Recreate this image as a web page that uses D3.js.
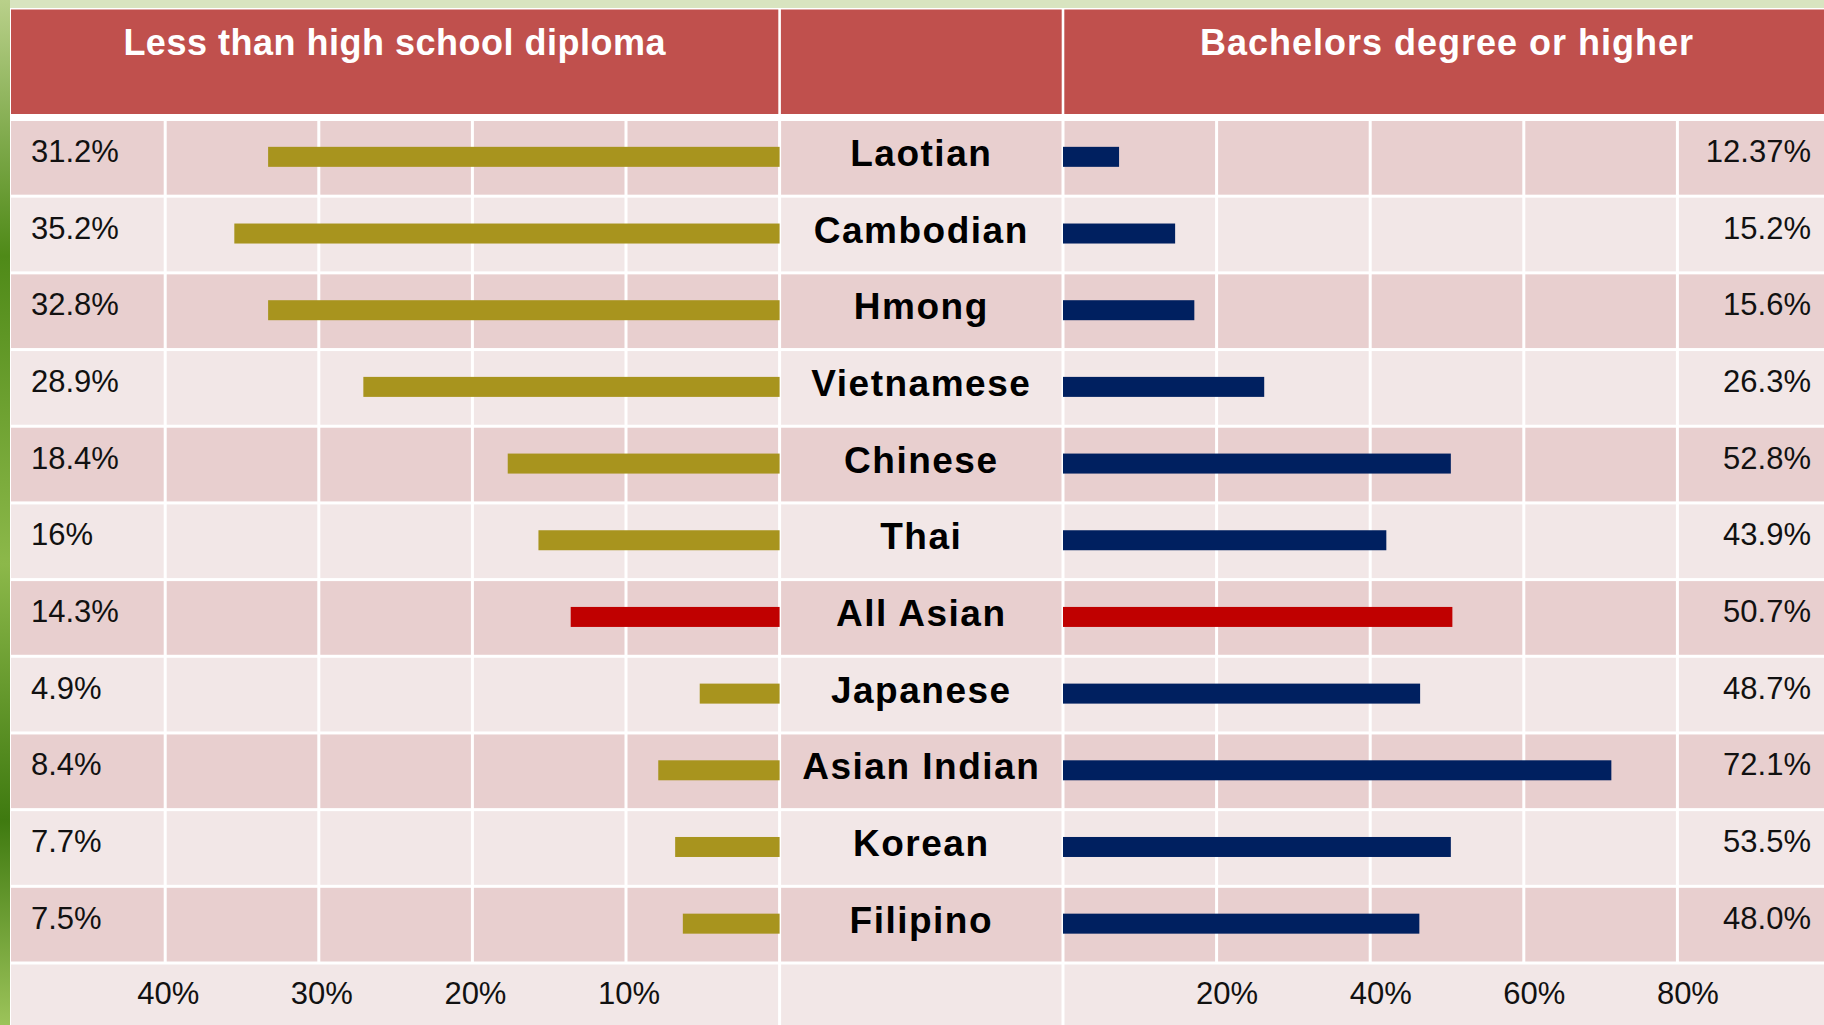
<!DOCTYPE html>
<html>
<head>
<meta charset="utf-8">
<script src="https://cdn.jsdelivr.net/npm/d3@7"></script>
<style>
  body { margin: 0; overflow: hidden; background: #f2e7e7; }
  text { font-family: "Liberation Sans", Arial, sans-serif; }
</style>
</head>
<body>
<div id="chart"></div>
<script>
// groups, top to bottom
const groups = ["Laotian", "Cambodian", "Hmong", "Vietnamese", "Chinese", "Thai",
  "All Asian", "Japanese", "Asian Indian", "Korean", "Filipino"];

// bar lengths in % as they are drawn
// (the drawn bars in the original don't always agree with the printed labels)
const lessHS    = [33.3, 35.5, 33.3, 27.1, 17.7, 15.7, 13.6, 5.2, 7.9, 6.8, 6.3];
const bachelors = [7.3, 14.6, 17.1, 26.2, 50.5, 42.1, 50.7, 46.5, 71.4, 50.5, 46.4];

// printed labels
const lessHSLabels    = ["31.2%", "35.2%", "32.8%", "28.9%", "18.4%", "16%", "14.3%", "4.9%", "8.4%", "7.7%", "7.5%"];
const bachelorsLabels = ["12.37%", "15.2%", "15.6%", "26.3%", "52.8%", "43.9%", "50.7%", "48.7%", "72.1%", "53.5%", "48.0%"];

const leftTicks  = [10, 20, 30, 40];
const rightTicks = [20, 40, 60, 80];
const highlight = "All Asian";

// page + table layout
const width = 1824, height = 1025;
const tableLeft = 11, headerTop = 9.5, headerBottom = 114;
const rowsTop = 119.5, rowsBottom = 963;
const leftZero = 779.6, rightZero = 1063;

const svg = d3.select("#chart")
  .append("svg")
    .attr("width", width)
    .attr("height", height);

// background (bamboo strip on the left, pale green on top)
const defs = svg.append("defs");
const grad = defs.append("linearGradient").attr("id", "bamboo")
  .attr("x1", 0).attr("x2", 0).attr("y1", 0).attr("y2", 1);
grad.append("stop").attr("offset", "0%").attr("stop-color", "#b9d08a");
grad.append("stop").attr("offset", "25%").attr("stop-color", "#4f8a18");
grad.append("stop").attr("offset", "55%").attr("stop-color", "#8cb84a");
grad.append("stop").attr("offset", "80%").attr("stop-color", "#3f7a10");
grad.append("stop").attr("offset", "100%").attr("stop-color", "#9cc35a");

svg.append("rect")
  .attr("width", width).attr("height", height)
  .attr("fill", "#d8e4c0");
svg.append("rect")
  .attr("width", tableLeft - 1).attr("height", height)
  .attr("fill", "url(#bamboo)");

// white table base shows through as the cell borders
svg.append("rect")
  .attr("x", tableLeft - 1).attr("y", headerTop - 1.5)
  .attr("width", width - tableLeft + 1).attr("height", height - headerTop + 1.5)
  .attr("fill", "#ffffff");

// scales
const y = d3.scaleBand()
  .domain(groups)
  .range([rowsTop, rowsBottom]);

const xL = d3.scaleLinear()
  .domain([0, 50])
  .range([leftZero, leftZero - 768]);

const xR = d3.scaleLinear()
  .domain([0, 100])
  .range([rightZero, rightZero + 768]);

// header cells
const headCells = [
  {x0: tableLeft, x1: leftZero - 1.3, label: "Less than high school diploma"},
  {x0: leftZero + 1.3, x1: rightZero - 1.3, label: ""},
  {x0: rightZero + 1.3, x1: width, label: "Bachelors degree or higher"}
];
svg.selectAll(".head")
  .data(headCells)
  .enter()
  .append("rect")
    .attr("class", "head")
    .attr("x", d => d.x0)
    .attr("y", headerTop)
    .attr("width", d => d.x1 - d.x0)
    .attr("height", headerBottom - headerTop)
    .attr("fill", "#c0504d");

svg.selectAll(".headText")
  .data(headCells.filter(d => d.label))
  .enter()
  .append("text")
    .attr("class", "headText")
    .attr("x", (d, i) => i == 0 ? (d.x0 + d.x1) / 2 : 1447)
    .attr("y", 55)
    .attr("text-anchor", "middle")
    .attr("font-size", 36)
    .attr("font-weight", "bold")
    .attr("letter-spacing", (d, i) => i == 0 ? 0.5 : 1)
    .attr("fill", "#ffffff")
    .text(d => d.label);

// row backgrounds, alternating
svg.selectAll(".row")
  .data(groups)
  .enter()
  .append("rect")
    .attr("class", "row")
    .attr("x", tableLeft)
    .attr("y", d => y(d) + 1.5)
    .attr("width", width - tableLeft)
    .attr("height", y.bandwidth() - 3)
    .attr("fill", (d, i) => i % 2 == 0 ? "#e8cfcf" : "#f2e7e7");

// axis row
svg.append("rect")
  .attr("x", tableLeft)
  .attr("y", rowsBottom + 1.5)
  .attr("width", width - tableLeft)
  .attr("height", height - rowsBottom)
  .attr("fill", "#f2e7e7");

// vertical grid lines inside the rows
const gridX = [0].concat(leftTicks).map(xL).concat([0].concat(rightTicks).map(xR));
svg.selectAll(".grid")
  .data(gridX)
  .enter()
  .append("line")
    .attr("class", "grid")
    .attr("x1", d => d).attr("x2", d => d)
    .attr("y1", rowsTop).attr("y2", rowsBottom)
    .attr("stroke", "#ffffff")
    .attr("stroke-width", 3);

// column dividers down through the axis row
svg.selectAll(".divider")
  .data([leftZero, rightZero])
  .enter()
  .append("line")
    .attr("class", "divider")
    .attr("x1", d => d).attr("x2", d => d)
    .attr("y1", rowsBottom).attr("y2", height)
    .attr("stroke", "#ffffff")
    .attr("stroke-width", 3);

const barH = 20;

// left bars (less than high school)
svg.selectAll(".barL")
  .data(groups)
  .enter()
  .append("rect")
    .attr("class", "barL")
    .attr("x", (d, i) => xL(lessHS[i]))
    .attr("y", d => y(d) + y.bandwidth() / 2 - barH / 2 - 1)
    .attr("width", (d, i) => xL(0) - xL(lessHS[i]))
    .attr("height", barH)
    .attr("fill", d => d == highlight ? "#c00000" : "#a8941e");

// right bars (bachelors or higher)
svg.selectAll(".barR")
  .data(groups)
  .enter()
  .append("rect")
    .attr("class", "barR")
    .attr("x", xR(0))
    .attr("y", d => y(d) + y.bandwidth() / 2 - barH / 2 - 1)
    .attr("width", (d, i) => xR(bachelors[i]) - xR(0))
    .attr("height", barH)
    .attr("fill", d => d == highlight ? "#c00000" : "#002060");

// group names in the middle column
svg.selectAll(".name")
  .data(groups)
  .enter()
  .append("text")
    .attr("class", "name")
    .attr("x", (leftZero + rightZero) / 2)
    .attr("y", d => y(d) + y.bandwidth() / 2 + 8)
    .attr("text-anchor", "middle")
    .attr("font-size", 37)
    .attr("font-weight", "bold")
    .attr("letter-spacing", 1.5)
    .attr("fill", "#000000")
    .text(d => d);

// value labels
svg.selectAll(".valL")
  .data(groups)
  .enter()
  .append("text")
    .attr("class", "valL")
    .attr("x", 31)
    .attr("y", d => y(d) + y.bandwidth() / 2 + 4)
    .attr("font-size", 31)
    .attr("fill", "#111111")
    .text((d, i) => lessHSLabels[i]);

svg.selectAll(".valR")
  .data(groups)
  .enter()
  .append("text")
    .attr("class", "valR")
    .attr("x", 1811)
    .attr("y", d => y(d) + y.bandwidth() / 2 + 4)
    .attr("text-anchor", "end")
    .attr("font-size", 31)
    .attr("fill", "#111111")
    .text((d, i) => bachelorsLabels[i]);

// bottom axes
const axisY = 1004;
function styleAxis(g, dx) {
  g.select(".domain").remove();
  g.selectAll(".tick line").remove();
  g.selectAll(".tick text")
    .attr("y", 0)
    .attr("dy", 0)
    .attr("dx", dx)
    .attr("font-size", 31)
    .attr("font-family", "Liberation Sans, Arial, sans-serif")
    .attr("fill", "#111111");
}

svg.append("g")
  .attr("transform", "translate(0," + axisY + ")")
  .call(d3.axisBottom(xL).tickValues(leftTicks).tickFormat(d => d + "%").tickSize(0))
  .call(g => styleAxis(g, 2.5));

svg.append("g")
  .attr("transform", "translate(0," + axisY + ")")
  .call(d3.axisBottom(xR).tickValues(rightTicks).tickFormat(d => d + "%").tickSize(0))
  .call(g => styleAxis(g, 10));
</script>
</body>
</html>
